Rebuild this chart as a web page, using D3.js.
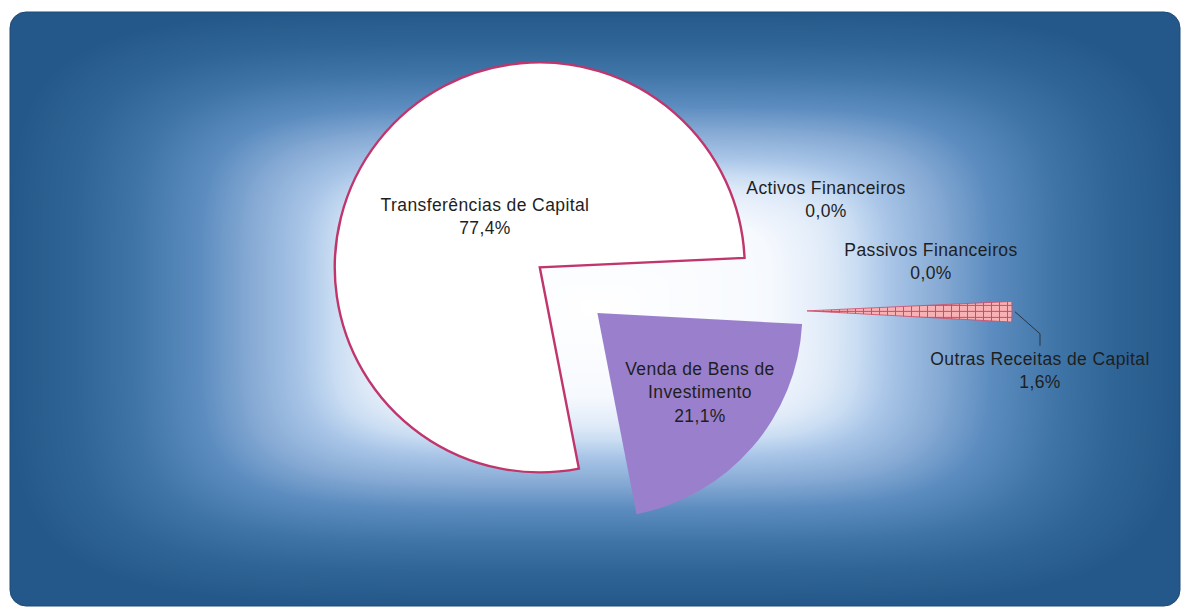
<!DOCTYPE html>
<html><head><meta charset="utf-8">
<script src="https://cdn.jsdelivr.net/npm/d3@7"></script>
<style>html,body{margin:0;padding:0;background:#fff;overflow:hidden}</style>
</head><body>
<svg id="chart" width="1182" height="609"></svg>
<script>
// ---- data ----
const categories = ["Transferências de Capital", "Activos Financeiros", "Passivos Financeiros", "Outras Receitas de Capital", "Venda de Bens de Investimento"];
const values = [77.4, 0.0, 0.0, 1.6, 21.1];
const labelLines = [["Transferências de Capital"], ["Activos Financeiros"], ["Passivos Financeiros"], ["Outras Receitas de Capital"], ["Venda de Bens de", "Investimento"]];

// ---- layout / style ----
const W = 1182, H = 609;
const frame = {x: 10, y: 12, w: 1170, h: 594, r: 16};
const cx = 594, cy = 310, R = 205;
const explode = [69, 0, 0, 213, 4.5];
const labelPos = [[485, 205], [826, 188], [931, 250], [1040, 359], [700, 369]];
const lineH = 23.3;

const svg = d3.select("#chart");
const defs = svg.append("defs");

// background: soft rectangular "from centre" gradient drawn on canvas
const ramp = d3.scaleLinear()
  .domain([0, 0.30, 0.40, 0.45, 0.50, 0.59, 0.675, 0.79, 0.89, 1.0])
  .range(["#ffffff", "#f6f9fe", "#dfeaf8", "#c8dcf2", "#aac6e8", "#86aad4", "#5d8dc0", "#3f74a6", "#2f6596", "#24588a"])
  .interpolate(d3.interpolateRgb).clamp(true);
const lut = d3.range(1001).map(i => d3.rgb(ramp(i / 1000)));
const cvs = document.createElement("canvas");
cvs.width = W; cvs.height = H;
const ctx = cvs.getContext("2d");
const img = ctx.createImageData(W, H);
const gcx = frame.x + frame.w / 2, gcy = 307, hw = frame.w / 2, hh = frame.h / 2;
const P = 5;
for (let y = 0; y < H; y++) {
  const ay = Math.pow(Math.abs(y - gcy) / hh, P);
  for (let x = 0; x < W; x++) {
    const ax = Math.pow(Math.abs(x - gcx) / hw, P);
    const t = Math.min(1, Math.pow(ax + ay, 1 / P));
    const c = lut[Math.round(t * 1000)];
    const k = (y * W + x) * 4;
    img.data[k] = c.r; img.data[k + 1] = c.g; img.data[k + 2] = c.b; img.data[k + 3] = 255;
  }
}
ctx.putImageData(img, 0, 0);

defs.append("clipPath").attr("id", "frameClip")
  .append("rect").attr("x", frame.x).attr("y", frame.y).attr("width", frame.w).attr("height", frame.h)
  .attr("rx", frame.r).attr("ry", frame.r);

svg.append("image").attr("href", cvs.toDataURL()).attr("x", 0).attr("y", 0)
  .attr("width", W).attr("height", H).attr("clip-path", "url(#frameClip)");
svg.append("rect").attr("x", frame.x).attr("y", frame.y).attr("width", frame.w).attr("height", frame.h)
  .attr("rx", frame.r).attr("ry", frame.r).attr("fill", "none").attr("stroke", "#1d4a75").attr("stroke-width", 1);

// hatch pattern for "Outras Receitas de Capital"
const pat = defs.append("pattern").attr("id", "grid").attr("patternUnits", "userSpaceOnUse")
  .attr("width", 8).attr("height", 6);
pat.append("rect").attr("width", 8).attr("height", 6).attr("fill", "#f6b2b4");
pat.append("path").attr("d", "M0.5,0V6M0,0.5H8").attr("stroke", "#cf4a68").attr("stroke-width", 1);

const fills = ["#ffffff", "#ffffff", "#ffffff", "url(#grid)", "#9a80cc"];
const strokes = ["#c0356c", "none", "none", "#cf4a68", "none"];
const strokeW = [2.4, 0, 0, 0.8, 0];

// pie
const toRad = Math.PI / 180;
const start = 169 * toRad;
const pie = d3.pie().sort(null).value(d => d).startAngle(start).endAngle(start + 2 * Math.PI);
const arcs = pie(values);
const arc = d3.arc().innerRadius(0).outerRadius(R);

const offset = (d, i) => {
  const mid = (d.startAngle + d.endAngle) / 2;
  return [cx + explode[i] * Math.sin(mid), cy - explode[i] * Math.cos(mid)];
};

const g = svg.append("g");
g.selectAll("path.slice").data(arcs.filter(d => d.value > 0)).join("path")
  .attr("class", "slice")
  .attr("transform", d => { const o = offset(d, d.index); return `translate(${o[0]},${o[1]})`; })
  .attr("d", arc)
  .attr("fill", d => fills[d.index])
  .attr("stroke", d => strokes[d.index])
  .attr("stroke-width", d => strokeW[d.index])
  .attr("stroke-linejoin", "miter");

// leader line for the small exploded slice
{
  const d = arcs[3];
  const o = offset(d, 3);
  const mid = (d.startAngle + d.endAngle) / 2;
  const p0 = [o[0] + (R + 3) * Math.sin(mid), o[1] - (R + 3) * Math.cos(mid)];
  const p1 = [p0[0] + 25, p0[1] + 22];
  const p2 = [p1[0], p1[1] + 12];
  svg.append("path").attr("d", d3.line()([p0, p1, p2]))
    .attr("fill", "none").attr("stroke", "#2a3340").attr("stroke-width", 1);
}

// labels
const fmt = d3.formatLocale({decimal: ",", thousands: ".", grouping: [3], currency: ["", "€"]}).format(".1f");
const lab = svg.append("g")
  .attr("font-family", "'Liberation Sans', Arial, sans-serif")
  .attr("font-size", 17.5).attr("letter-spacing", 0.4)
  .attr("fill", "#1e1e1e").attr("text-anchor", "middle");
arcs.forEach((d, i) => {
  const lines = labelLines[i].concat([fmt(values[i]) + "%"]);
  const t = lab.append("text").attr("x", labelPos[i][0]).attr("y", labelPos[i][1]);
  lines.forEach((s, j) => {
    t.append("tspan").attr("x", labelPos[i][0]).attr("y", labelPos[i][1] + j * lineH)
      .attr("dominant-baseline", "central").text(s);
  });
});
</script>
</body></html>
